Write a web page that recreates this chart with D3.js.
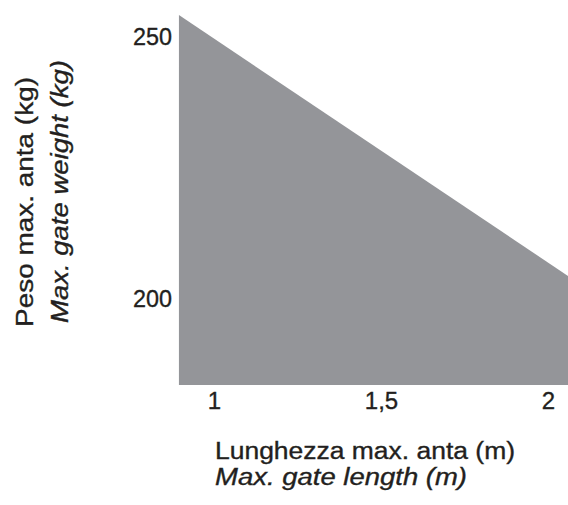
<!DOCTYPE html>
<html>
<head>
<meta charset="utf-8">
<script src="https://cdn.jsdelivr.net/npm/d3@7"></script>
<style>
  html, body { margin: 0; padding: 0; background: #fff; }
  svg { display: block; }
  text { font-family: "Liberation Sans", Arial, sans-serif; fill: #231f20; stroke: #231f20; stroke-width: 0.35px; }
</style>
</head>
<body>
<svg id="chart" width="568" height="505"></svg>
<script>
// Data
const lengths = [0.895, 2.06];         // gate length (m) at the ends of the sloped edge
const weights = [254, 204.2];          // max gate weight (kg)
const baseWeight = 183.4;              // bottom of the shaded region
const xTicks = [1, 1.5, 2];
const yTicks = [200, 250];
const xTitle = ["Lunghezza max. anta (m)", "Max. gate length (m)"];
const yTitle = ["Peso max. anta (kg)", "Max. gate weight (kg)"];

const points = lengths.map((l, i) => ({ l, w: weights[i] }));

const svg = d3.select("#chart");
const x = d3.scaleLinear().domain([1, 2]).range([214, 548]);
const y = d3.scaleLinear().domain([200, 250]).range([298, 36]);

const itLocale = d3.formatLocale({ decimal: ",", thousands: ".", grouping: [3], currency: ["", "€"] });
const fmt = v => Number.isInteger(v) ? String(v) : itLocale.format(".1f")(v);

const area = d3.area()
  .x(d => x(d.l))
  .y0(y(baseWeight))
  .y1(d => y(d.w));

svg.append("path")
  .datum(points)
  .attr("d", area)
  .attr("fill", "#949599");

// Y axis
const yAxis = svg.append("g")
  .attr("transform", `translate(${x(lengths[0])},0)`)
  .call(d3.axisLeft(y).tickValues(yTicks).tickSize(0).tickPadding(7).tickFormat(fmt));
yAxis.select(".domain").remove();
yAxis.selectAll("text")
  .attr("font-family", "'Liberation Sans', Arial, sans-serif")
  .attr("font-size", 24)
  .attr("fill", "#231f20")
  .attr("textLength", 39).attr("lengthAdjust", "spacingAndGlyphs")
  .attr("dy", "0.36em");

// X axis
const xAxis = svg.append("g")
  .attr("transform", `translate(0,${y(baseWeight)})`)
  .call(d3.axisBottom(x).tickValues(xTicks).tickSize(0).tickPadding(7).tickFormat(fmt));
xAxis.select(".domain").remove();
xAxis.selectAll("text")
  .attr("font-family", "'Liberation Sans', Arial, sans-serif")
  .attr("font-size", 24)
  .attr("fill", "#231f20");

// X title
svg.append("text")
  .attr("x", 215).attr("y", 459)
  .attr("font-size", 23.5)
  .attr("textLength", 300).attr("lengthAdjust", "spacingAndGlyphs")
  .text(xTitle[0]);
svg.append("text")
  .attr("x", 215).attr("y", 485)
  .attr("font-size", 23.5)
  .attr("font-style", "italic")
  .attr("textLength", 252).attr("lengthAdjust", "spacingAndGlyphs")
  .text(xTitle[1]);

// Y title
svg.append("text")
  .attr("transform", "translate(33,327) rotate(-90)")
  .attr("font-size", 23.5)
  .attr("textLength", 250).attr("lengthAdjust", "spacingAndGlyphs")
  .text(yTitle[0]);
svg.append("text")
  .attr("transform", "translate(68,323) rotate(-90)")
  .attr("font-size", 23.5)
  .attr("font-style", "italic")
  .attr("textLength", 263).attr("lengthAdjust", "spacingAndGlyphs")
  .text(yTitle[1]);
</script>
</body>
</html>
